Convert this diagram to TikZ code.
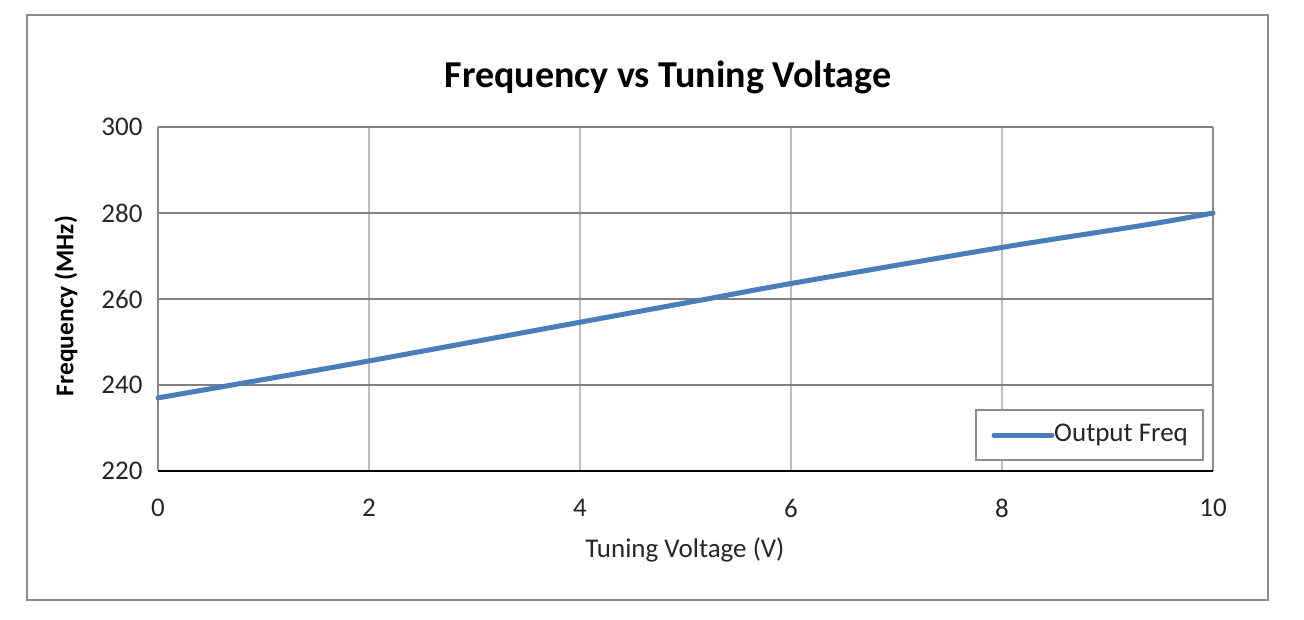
\documentclass[tikz,border=0pt]{standalone}
\usepackage{fontspec}
\setmainfont{Carlito}
\definecolor{serblue}{RGB}{74,126,187}
\begin{document}
\begin{tikzpicture}[x=1pt,y=-1pt,
  tick/.style={font=\fontsize{27}{29}\selectfont, text=black!85},
  hgrid/.style={draw=black!50, line width=1.8pt},
  vgrid/.style={draw=black!25, line width=1.4pt},
  series/.style={draw=serblue, line width=5pt, line cap=round, line join=round}]
\useasboundingbox (0,0) rectangle (1304,620);
\fill[white] (0,0) rectangle (1304,620);
\draw[black!45, line width=1.4pt] (27,15) rectangle (1268,600);
\foreach \i in {1,...,5} \draw[vgrid] ({158+211*\i},127) -- ({158+211*\i},471);
\foreach \v/\y in {300/127,280/213,260/299,240/385} {
  \draw[hgrid] (158,\y) -- (1213,\y);
  \node[tick, anchor=east] (yt\v) at (146,\y) {\v};
}
\node[tick, anchor=east] (yt220) at (146,471) {220};
\draw[black!45, line width=1.4pt] (158,127) -- (158,471);
\draw[black!45, line width=1.4pt] (1213,127) -- (1213,471);
\draw[black, line width=1.6pt] (158,471) -- (1213,471);
\foreach \i in {0,...,5} \node[tick] (xt\i) at ({158+211*\i},508) {\the\numexpr 2*\i\relax};
\draw[series, smooth] plot coordinates {
 (158,{471-17*4.3}) (232,{471-20*4.3}) (369,{471-25.6*4.3}) (580,{471-34.6*4.3})
 (707,{471-40*4.3}) (791,{471-43.6*4.3}) (1002,{471-52*4.3}) (1150,{471-57.4*4.3}) (1213,{471-60*4.3})};
\draw[black!45, line width=1.4pt, fill=white] (976,410) rectangle (1203,460);
\coordinate (la) at (994,435);
\coordinate (lb) at (1052,435);
\draw[series] (la) -- (lb);
\node[tick, anchor=west, inner sep=1pt] (lt) at (1053,435) {Output Freq};
\node[font=\fontsize{38}{40}\selectfont\bfseries] (title) at (668,77) {Frequency vs Tuning Voltage};
\node[font=\fontsize{25.5}{27}\selectfont\bfseries, rotate=90] (ylab) at (66,306) {Frequency (MHz)};
\node[tick] (xlab) at (685,550) {Tuning Voltage (V)};
\end{tikzpicture}
\end{document}
